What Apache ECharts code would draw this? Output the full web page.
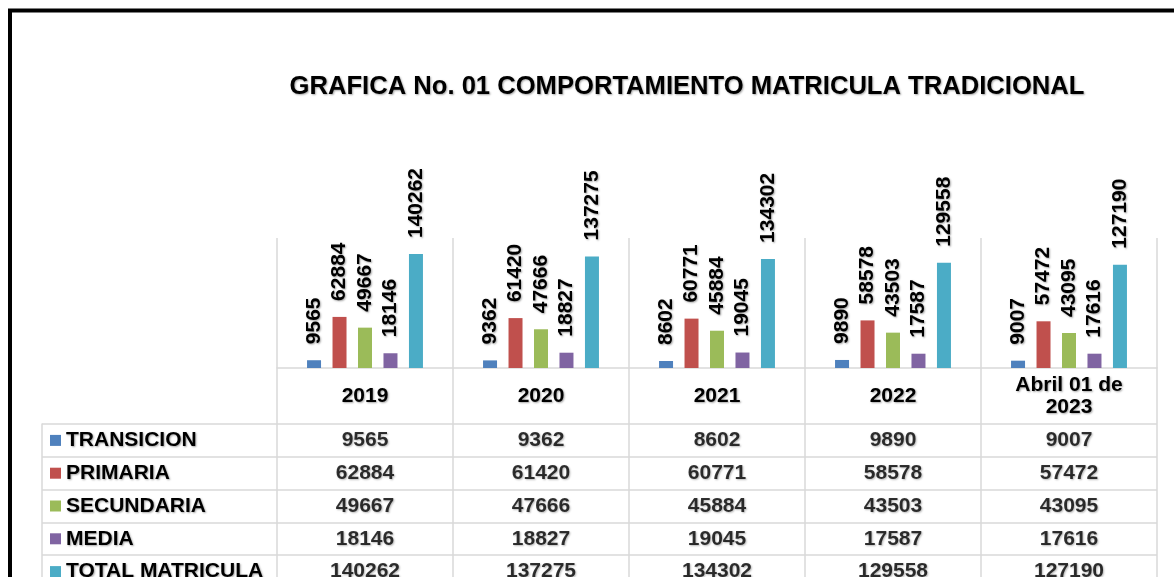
<!DOCTYPE html>
<html>
<head>
<meta charset="utf-8">
<script src="https://cdn.jsdelivr.net/npm/echarts@6/dist/echarts.min.js"></script>
<style>html,body{margin:0;padding:0;background:#fff}#c{width:1174px;height:577px}</style>
</head>
<body>
<div id="c"></div>
<script>
const titleText = 'GRAFICA No. 01 COMPORTAMIENTO MATRICULA TRADICIONAL';
const categories = ['2019', '2020', '2021', '2022', 'Abril 01 de\n2023'];
const seriesNames = ['TRANSICION', 'PRIMARIA', 'SECUNDARIA', 'MEDIA', 'TOTAL MATRICULA'];
const transicion = [9565, 9362, 8602, 9890, 9007];
const primaria = [62884, 61420, 60771, 58578, 57472];
const secundaria = [49667, 47666, 45884, 43503, 43095];
const media = [18146, 18827, 19045, 17587, 17616];
const totalMatricula = [140262, 137275, 134302, 129558, 127190];
const colors = ['#4F81BD', '#C0504D', '#9BBB59', '#8064A2', '#4BACC6'];

const seriesValues = [transicion, primaria, secundaria, media, totalMatricula];
const FONT = 'Liberation Sans, Arial, sans-serif';
const FS = 21;
const shadow = {textShadowColor: 'rgba(0,0,0,0.35)', textShadowBlur: 2, textShadowOffsetX: 1, textShadowOffsetY: 1};
const lineCol = '#d9d9d9';

const rich = {t: Object.assign({fontFamily: FONT, fontWeight: 'bold', fontSize: FS, color: '#000', padding: [0, 0, 0, 5]}, shadow)};
colors.forEach((c, i) => { rich['s' + i] = {backgroundColor: c, width: 11, height: 11}; });

const series = [];
seriesValues.forEach((vals, si) => {
  series.push({
    name: seriesNames[si], type: 'bar', xAxisIndex: 0, yAxisIndex: 0,
    data: vals, barWidth: 14, barGap: '82%',
    itemStyle: {color: colors[si]},
    label: Object.assign({show: true, position: 'top', rotate: 90, align: 'left', verticalAlign: 'middle',
      distance: 16, fontFamily: FONT, fontWeight: 'bold', fontSize: FS, color: '#000'}, shadow)
  });
});
seriesValues.forEach((vals, si) => {
  series.push({
    type: 'scatter', xAxisIndex: 1, yAxisIndex: 1, symbol: 'rect', symbolSize: 1,
    itemStyle: {color: 'transparent'}, silent: true,
    data: vals.map((v, i) => [categories[i], seriesNames[si], v]),
    label: Object.assign({show: true, position: 'inside', formatter: p => String(p.value[2]),
      fontFamily: FONT, fontWeight: 'bold', fontSize: FS, color: '#000'}, shadow)
  });
});

const chart = echarts.init(document.getElementById('c'), null, {renderer: 'canvas'});
chart.setOption({
  animation: false,
  backgroundColor: '#fff',
  title: {
    text: titleText, left: 682, top: 69, textAlign: 'center',
    textStyle: Object.assign({fontFamily: FONT, fontWeight: 'bold', fontSize: 25.6, color: '#000'}, shadow)
  },
  graphic: [{
    type: 'rect', shape: {x: 10, y: 10.5, width: 1400, height: 800},
    style: {fill: 'none', stroke: '#000', lineWidth: 4}, silent: true
  }],
  grid: [
    {left: 277, right: 17, top: 238, height: 130, containLabel: false, outerBoundsMode: 'none'},
    {left: 277, right: 17, top: 424, height: 164, containLabel: false, outerBoundsMode: 'none'}
  ],
  xAxis: [
    {type: 'category', gridIndex: 0, data: categories,
      axisLine: {show: true, lineStyle: {color: lineCol, width: 1.5}},
      axisTick: {show: true, length: 56, alignWithLabel: false, interval: 0, lineStyle: {color: lineCol, width: 1.5}},
      splitLine: {show: true, interval: 0, lineStyle: {color: lineCol, width: 1.5}},
      axisLabel: Object.assign({interval: 0, margin: 28, verticalAlign: 'middle', lineHeight: 22,
        fontFamily: FONT, fontWeight: 'bold', fontSize: FS, color: '#000'}, shadow)},
    {type: 'category', gridIndex: 1, data: categories,
      axisLine: {show: false}, axisTick: {show: false}, axisLabel: {show: false},
      splitLine: {show: true, interval: 0, lineStyle: {color: lineCol, width: 1.5}}}
  ],
  yAxis: [
    {type: 'value', gridIndex: 0, min: 0, max: 160000, interval: 20000, show: false, splitLine: {show: false}},
    {type: 'category', gridIndex: 1, data: seriesNames, inverse: true,
      axisLine: {show: false},
      axisTick: {show: true, length: 235, alignWithLabel: false, interval: 0, lineStyle: {color: lineCol, width: 1.5}},
      splitLine: {show: true, interval: 0, lineStyle: {color: lineCol, width: 1.5}},
      axisLabel: {interval: 0, align: 'left', margin: 227,
        formatter: (v, i) => '{s' + i + '|}{t|' + v + '}', rich: rich}},
    {type: 'category', gridIndex: 1, data: seriesNames, position: 'left', offset: 235,
      axisLine: {show: true, lineStyle: {color: lineCol, width: 1.5}},
      axisTick: {show: false}, axisLabel: {show: false}, splitLine: {show: false}}
  ],
  series: series
});
</script>
</body>
</html>
